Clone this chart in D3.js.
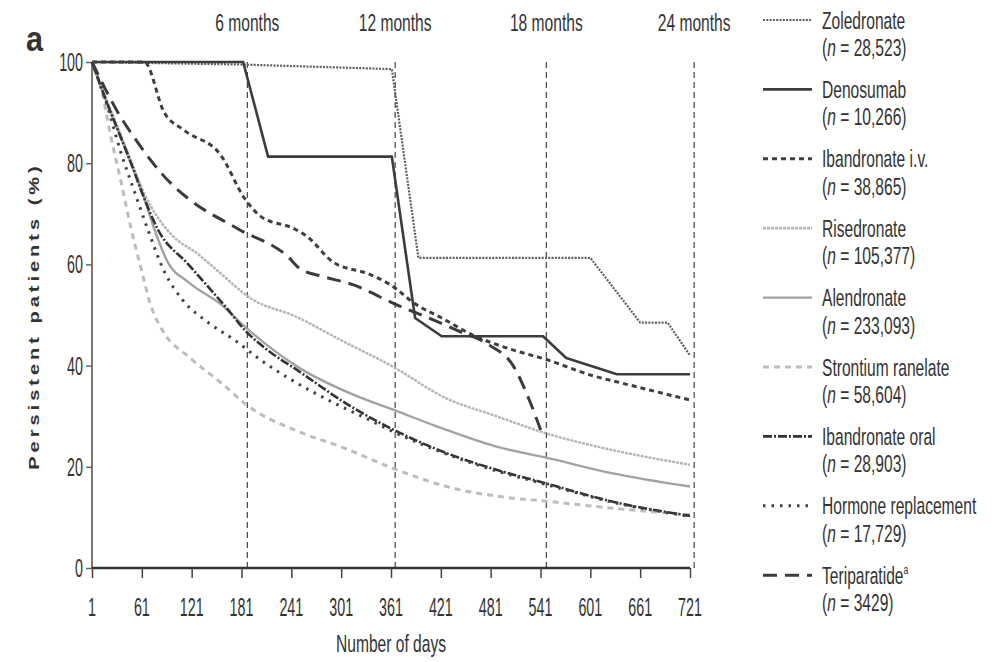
<!DOCTYPE html>
<html>
<head>
<meta charset="utf-8">
<script src="https://cdn.jsdelivr.net/npm/d3@7"></script>
<style>
  html, body { margin: 0; padding: 0; background: #fff; }
  svg { display: block; }
  text { font-family: "Liberation Sans", Arial, Helvetica, sans-serif; fill: #333; }
</style>
</head>
<body>
<svg id="chart" width="1005" height="662"></svg>
<script>
// Persistence curves: [day, % persistent]
const zoledronate = [[1,100],[182,99.5],[362,98.6],[394,61.3],[601,61.3],[661,48.5],[694,48.5],[721,42]];
const denosumab = [[1,100],[183,100],[213,81.3],[362,81.3],[390,49.4],[422,45.8],[544,45.8],[572,41.5],[633,38.3],[721,38.3]];
const ibandronateIV = [[1,100],[64,100],[88,90],[112,86.5],[156,81.6],[185,73],[204,69.5],[245,67],[260,65.5],[291,60.5],[336,58],[360,56],[392,52],[421,49.5],[460,46],[500,43.5],[548,41.2],[604,38],[640,36.5],[721,33.2]];
const risedronate = [[1,100],[20,92],[36,85.5],[48,80.5],[64,74],[96,66],[129,62],[149,59.2],[195,53],[245,49.8],[301,45],[361,40],[428,33.5],[488,30],[548,26.6],[628,23.3],[721,20.4]];
const alendronate = [[1,100],[20,91.5],[36,85],[48,80],[64,73],[76,67],[92,60.5],[117,56.5],[157,52],[185,47.7],[251,39.5],[312,34.5],[368,31],[416,28],[488,24],[548,21.8],[628,18.7],[721,16.1]];
const strontium = [[1,100],[12,94.8],[24,85],[36,76.3],[48,67.1],[60,59.2],[72,51.8],[88,46.4],[117,41.8],[157,36.5],[189,32],[249,27],[300,24],[368,19.4],[428,16.1],[508,13.8],[548,13.2],[628,11.8],[721,10.5]];
const ibandronateOral = [[1,100],[20,91.5],[36,85],[48,80],[64,73],[80,67],[117,60],[165,51],[185,47],[213,43],[249,39],[312,32],[368,27],[428,22.7],[488,19.4],[548,16.7],[628,13.1],[721,10.3]];
const hormone = [[1,100],[20,91],[36,82],[48,76.3],[68,67],[88,58.6],[110,53],[141,48.5],[173,45],[205,41],[241,37.2],[300,32],[332,29.5],[368,26.6],[428,22.5],[488,19.2],[548,16.5],[628,13],[721,10.2]];
const teriparatide = [[1,100],[36,89],[48,86],[96,76],[117,73],[177,67],[237,61.5],[251,59.2],[279,57.6],[315,56],[368,52],[405,49.5],[440,47],[480,44],[508,40],[528,33],[544,26]];

const seriesNames = ["Zoledronate","Denosumab","Ibandronate i.v.","Risedronate","Alendronate","Strontium ranelate","Ibandronate oral","Hormone replacement","Teriparatide"];
const seriesCounts = ["28,523","10,266","38,865","105,377","233,093","58,604","28,903","17,729","3429"];
const seriesData = [zoledronate, denosumab, ibandronateIV, risedronate, alendronate, strontium, ibandronateOral, hormone, teriparatide];

const xTicks = [1,61,121,181,241,301,361,421,481,541,601,661,721];
const yTicks = [0,20,40,60,80,100];
const milestoneDays = [188,366,548,726];
const milestoneLabels = ["6 months","12 months","18 months","24 months"];

// Line styles, one per series (same order as seriesNames)
const styles = [
  { color: "#5e5e5e", width: 2.2, dash: "2,1.3", curve: d3.curveLinear },
  { color: "#3c3c3c", width: 2.6, dash: null, curve: d3.curveLinear },
  { color: "#3f3f3f", width: 3, dash: "5,4", curve: d3.curveMonotoneX },
  { color: "#b4b4b4", width: 2.4, dash: "3,1", curve: d3.curveMonotoneX },
  { color: "#a2a2a2", width: 2.4, dash: null, curve: d3.curveMonotoneX },
  { color: "#bdbdbd", width: 3, dash: "6,5", curve: d3.curveMonotoneX },
  { color: "#333333", width: 2.6, dash: "9,2,2,2", curve: d3.curveMonotoneX },
  { color: "#404040", width: 3, dash: "2.5,6", curve: d3.curveMonotoneX },
  { color: "#3c3c3c", width: 3, dash: "14,8", curve: d3.curveMonotoneX }
];

const svg = d3.select("#chart");
const x = d3.scaleLinear().domain([1, 721]).range([92, 690]);
const y = d3.scaleLinear().domain([0, 100]).range([568, 62]);

// Horizontally condensed text helper
function ctext(parent, px, py, sx, size, anchor) {
  return parent.append("g")
    .attr("transform", `translate(${px},${py}) scale(${sx},1)`)
    .append("text")
    .attr("font-size", size)
    .attr("text-anchor", anchor || "start");
}

// Milestone reference lines
svg.append("g").selectAll("line")
  .data(milestoneDays)
  .join("line")
  .attr("x1", d => x(d)).attr("x2", d => x(d))
  .attr("y1", y(100)).attr("y2", y(0))
  .attr("stroke", "#333").attr("stroke-width", 1.1)
  .attr("stroke-dasharray", "6,4");

milestoneDays.forEach((d, i) => {
  ctext(svg, x(d), 31, 0.65, 24, "middle").text(milestoneLabels[i]);
});

// Axes
const yAxis = svg.append("g")
  .attr("transform", `translate(${x(1)},0)`)
  .call(d3.axisLeft(y).tickValues(yTicks).tickSize(6).tickFormat(""));
yAxis.select(".domain").attr("stroke", "#777").attr("stroke-width", 2).attr("d", `M0,${y(100)}V${y(0)}`);
yAxis.selectAll(".tick line").attr("stroke", "#666").attr("stroke-width", 1.5);

const xAxis = svg.append("g")
  .attr("transform", `translate(0,${y(0)})`)
  .call(d3.axisBottom(x).tickValues(xTicks).tickSize(10).tickFormat(""));
xAxis.select(".domain").attr("stroke", "#333").attr("stroke-width", 2.5).attr("d", `M${x(1)},0H${x(721)}`);
xAxis.selectAll(".tick line").attr("stroke", "#444").attr("stroke-width", 1.5);

yTicks.forEach(v => {
  ctext(svg, 83, y(v) + 9, 0.55, 26, "end").text(v);
});
xTicks.forEach(v => {
  ctext(svg, x(v), 616, 0.55, 26, "middle").text(v);
});

// Axis titles
ctext(svg, 391, 652, 0.65, 24, "middle").text("Number of days");
svg.append("g")
  .attr("transform", `translate(39,316) scale(0.7,1) rotate(-90)`)
  .append("text")
  .attr("font-size", 20)
  .attr("font-weight", "bold")
  .attr("letter-spacing", 4)
  .attr("text-anchor", "middle")
  .attr("fill", "#444")
  .text("Persistent patients (%)");

// Panel letter
ctext(svg, 26, 51, 0.85, 36).attr("font-weight", "bold").attr("fill", "#222").text("a");

// Curves
const line = d3.line().x(d => x(d[0])).y(d => y(d[1]));
const plot = svg.append("g").attr("fill", "none");
seriesData.forEach((data, i) => {
  const s = styles[i];
  plot.append("path")
    .datum(data)
    .attr("d", line.curve(s.curve))
    .attr("stroke", s.color)
    .attr("stroke-width", s.width)
    .attr("stroke-dasharray", s.dash)
    .attr("stroke-linejoin", "round");
});

// Legend
const legend = svg.append("g");
seriesNames.forEach((name, i) => {
  const cy = 20 + 69.4 * i;
  const s = styles[i];
  legend.append("line")
    .attr("x1", 763).attr("x2", 812)
    .attr("y1", cy).attr("y2", cy)
    .attr("stroke", s.color)
    .attr("stroke-width", s.width)
    .attr("stroke-dasharray", s.dash);
  const t = ctext(legend, 822, cy + 8.5, 0.65, 24);
  t.text(name);
  if (name === "Teriparatide") {
    t.append("tspan").attr("font-size", 13).attr("dy", -10).text("a");
  }
  const n = ctext(legend, 822, cy + 36, 0.65, 24);
  n.append("tspan").text("(");
  n.append("tspan").attr("font-style", "italic").text("n");
  n.append("tspan").text(" = " + seriesCounts[i] + ")");
});
</script>
</body>
</html>
